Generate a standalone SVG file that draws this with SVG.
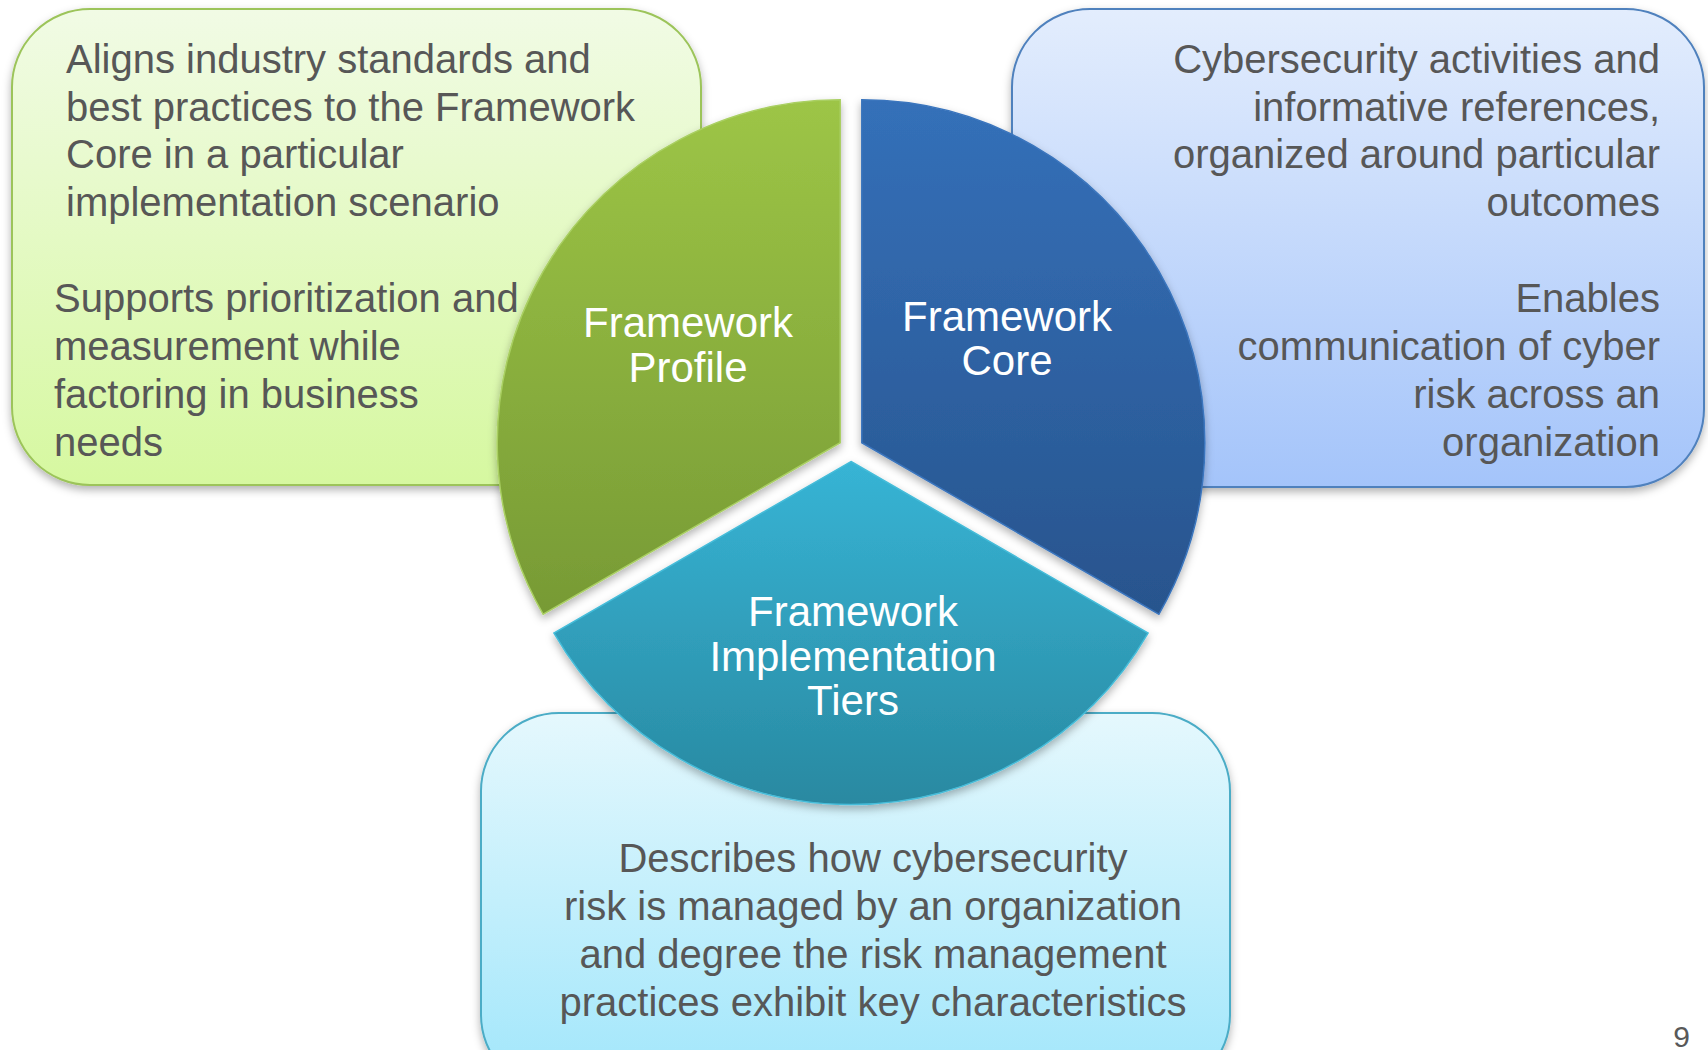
<svg xmlns="http://www.w3.org/2000/svg" width="1708" height="1050" viewBox="0 0 1708 1050">
<defs>
<linearGradient id="gBoxG" x1="0" y1="0" x2="0" y2="1"><stop offset="0" stop-color="#f1fbe5"/><stop offset="1" stop-color="#d6f8a0"/></linearGradient>
<linearGradient id="gBoxB" x1="0" y1="0" x2="0" y2="1"><stop offset="0" stop-color="#e3edfd"/><stop offset="1" stop-color="#a4c4fa"/></linearGradient>
<linearGradient id="gBoxT" x1="0" y1="0" x2="0" y2="1"><stop offset="0" stop-color="#e5f8fd"/><stop offset="1" stop-color="#a0e6fb"/></linearGradient>
<linearGradient id="gSecG" x1="0" y1="0" x2="0" y2="1"><stop offset="0" stop-color="#9dc546"/><stop offset="1" stop-color="#779a35"/></linearGradient>
<linearGradient id="gSecB" x1="0" y1="0" x2="0" y2="1"><stop offset="0" stop-color="#3470b9"/><stop offset="1" stop-color="#28548d"/></linearGradient>
<linearGradient id="gSecT" x1="0" y1="0" x2="0" y2="1"><stop offset="0" stop-color="#37b4d5"/><stop offset="1" stop-color="#2989a1"/></linearGradient>
<filter id="sh" x="-10%" y="-10%" width="120%" height="125%"><feDropShadow dx="0" dy="4" stdDeviation="4" flood-color="#000" flood-opacity="0.3"/></filter>
</defs>
<style>
.box{stroke-width:2}
.desc{font-family:"Liberation Sans",Arial,sans-serif;font-size:40px;fill:#575757}
.lbl{font-family:"Liberation Sans",Arial,sans-serif;font-size:42px;fill:#ffffff;text-anchor:middle}
.sec{stroke-width:1.5}
</style>
<g id="box-profile">
<rect class="box" x="12" y="9" width="689" height="476" rx="78" ry="78" fill="url(#gBoxG)" stroke="#9cc45a" filter="url(#sh)"/>
<text class="desc"><tspan x="66" y="73">Aligns industry standards and</tspan><tspan x="66" y="121">best practices to the Framework</tspan><tspan x="66" y="168">Core in a particular</tspan><tspan x="66" y="216">implementation scenario</tspan><tspan x="54" y="312">Supports prioritization and</tspan><tspan x="54" y="360">measurement while</tspan><tspan x="54" y="408">factoring in business</tspan><tspan x="54" y="456">needs</tspan></text>
</g>
<g id="box-core">
<rect class="box" x="1012" y="9" width="692" height="478" rx="78" ry="78" fill="url(#gBoxB)" stroke="#4f81bd" filter="url(#sh)"/>
<text class="desc" text-anchor="end"><tspan x="1660" y="73">Cybersecurity activities and</tspan><tspan x="1660" y="121">informative references,</tspan><tspan x="1660" y="168">organized around particular</tspan><tspan x="1660" y="216">outcomes</tspan><tspan x="1660" y="312">Enables</tspan><tspan x="1660" y="360">communication of cyber</tspan><tspan x="1660" y="408">risk across an</tspan><tspan x="1660" y="456">organization</tspan></text>
</g>
<g id="box-tiers">
<rect class="box" x="481" y="713" width="749" height="380" rx="78" ry="78" fill="url(#gBoxT)" stroke="#4bacc6" filter="url(#sh)"/>
<text class="desc" text-anchor="middle"><tspan x="873" y="872">Describes how cybersecurity</tspan><tspan x="873" y="920">risk is managed by an organization</tspan><tspan x="873" y="968">and degree the risk management</tspan><tspan x="873" y="1016">practices exhibit key characteristics</tspan></text>
</g>
<g id="sector-profile">
<path class="sec" d="M 840.2 99.75 L 840.2 442.75 L 543.2 614.25 A 343 343 0 0 1 840.2 99.75 Z" fill="url(#gSecG)" stroke="#a9cf62" filter="url(#sh)"/>
<text class="lbl"><tspan x="688" y="337">Framework</tspan><tspan x="688" y="382">Profile</tspan></text>
</g>
<g id="sector-core">
<path class="sec" d="M 861.8 442.75 L 861.8 99.75 A 343 343 0 0 1 1158.85 614.25 Z" fill="url(#gSecB)" stroke="#3a75bd" filter="url(#sh)"/>
<text class="lbl"><tspan x="1007" y="331">Framework</tspan><tspan x="1007" y="375">Core</tspan></text>
</g>
<g id="sector-tiers">
<path class="sec" d="M 851 461.5 L 1148.05 633 A 343 343 0 0 1 553.95 633 Z" fill="url(#gSecT)" stroke="#45bcd9" filter="url(#sh)"/>
<text class="lbl"><tspan x="853" y="626">Framework</tspan><tspan x="853" y="671">Implementation</tspan><tspan x="853" y="715">Tiers</tspan></text>
</g>
<g id="connectors"/>
<text x="1690" y="1047" text-anchor="end" font-family="'Liberation Sans',Arial,sans-serif" font-size="30" fill="#595959">9</text>
</svg>
